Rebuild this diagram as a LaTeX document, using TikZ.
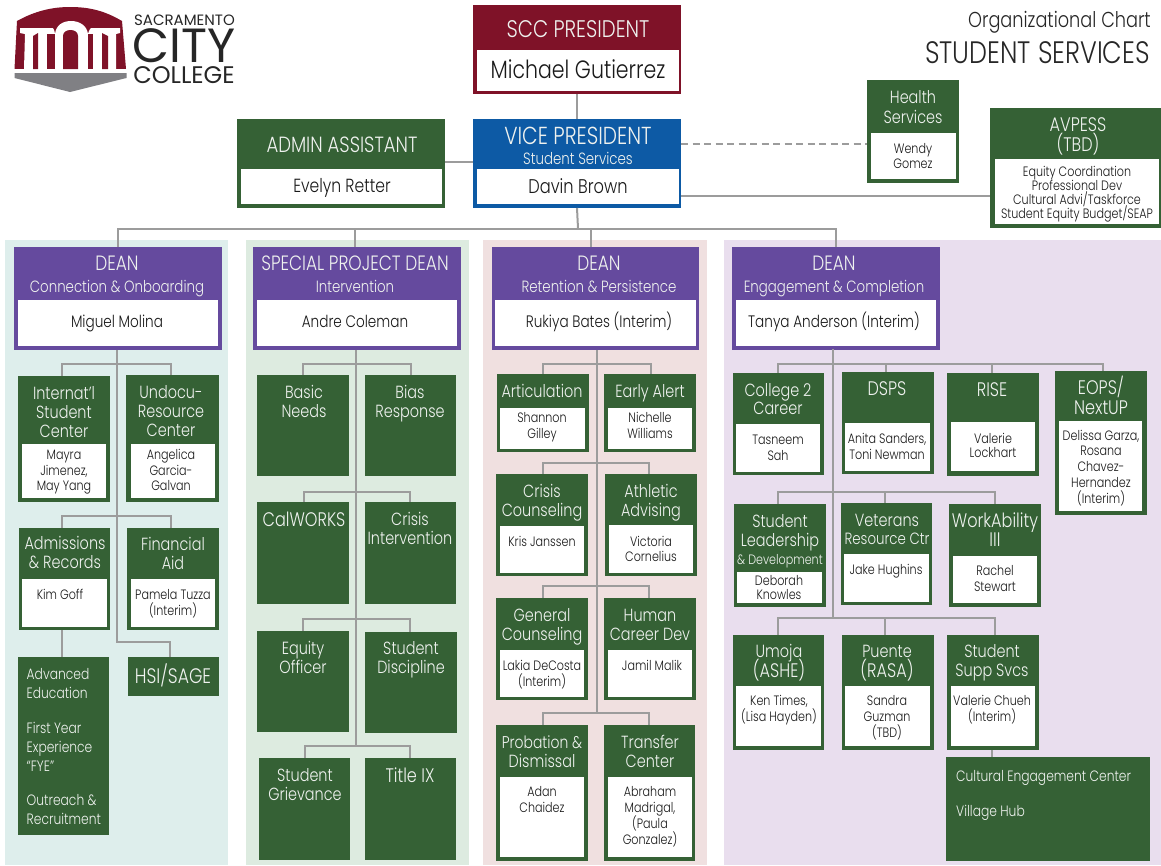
\documentclass[tikz,border=0pt]{standalone}
\usepackage{fontspec}
\setmainfont{Poppins}[UprightFont=* Light,FakeStretch=0.82]
\newfontfamily\logofont{Poppins}
\definecolor{gr}{HTML}{356135}
\definecolor{pu}{HTML}{654A9E}
\definecolor{ma}{HTML}{7F1228}
\definecolor{bl}{HTML}{0D5AA5}
\definecolor{ln}{HTML}{9C9C9C}
\definecolor{pa}{HTML}{DEEEEC}
\definecolor{pb}{HTML}{DDEBE0}
\definecolor{pc}{HTML}{F0E0E0}
\definecolor{pd}{HTML}{E9DEEE}
\definecolor{lg}{HTML}{808084}
\newcounter{tn}
\newcommand{\fs}[1]{\fontsize{#1}{#1}\selectfont}
\newcommand{\capbox}[1]{\rule{0pt}{.72em}\smash{#1}}
\tikzset{
 conn/.style={draw=ln,line width=2pt},
 plate/.style={inner sep=0pt,outer sep=0pt,draw=none,rectangle},
 wht/.style={font=\fs{17.6},text=white!92!gr,inner sep=0pt},
 blk/.style={font=\fs{13.6},text=black!90,inner sep=0pt},
 big/.style={font=\fs{20.7}},
 capt/.style={font=\fs{19.6}},
 mid/.style={font=\fs{16.3}},
 lst/.style={font=\fs{15}},
 sml/.style={font=\fs{13.6}},
 dn/.style={font=\fs{16.6}},
 lg1/.style={inner sep=0pt,text=black!85},
}
% \plt[colour]{name}{x0}{y0}{x1}{y1}
\newcommand{\plt}[6][gr]{%
 \pgfmathsetmacro{\pw}{#5-#3}\pgfmathsetmacro{\ph}{#6-#4}%
 \pgfmathsetmacro{\pcx}{(#3+#5)/2}\pgfmathsetmacro{\pcy}{(#4+#6)/2}%
 \node[plate,fill=#1,minimum width=\pw pt,minimum height=\ph pt] (#2) at (\pcx,\pcy) {};}
\newcommand{\ws}[5]{\plt[white]{#1-w}{#2}{#3}{#4}{#5}}
\newcommand{\wt}[4][]{\stepcounter{tn}\node[wht,#1] (t\arabic{tn}) at (#2,#3) {\capbox{#4}};}
\newcommand{\bt}[4][]{\stepcounter{tn}\node[blk,#1] (t\arabic{tn}) at (#2,#3) {\capbox{#4}};}
\begin{document}
\begin{tikzpicture}[x=1pt,y=-1pt]
\useasboundingbox (0,0) rectangle (1161,865);
% panels
\plt[pa]{panA}{5}{240}{228}{865}
\plt[pb]{panB}{246}{240}{469}{865}
\plt[pc]{panC}{483}{240}{707}{865}
\plt[pd]{panD}{724}{240}{1161}{865}
% logo
\fill[ma] (14.5,69) -- (17,21) .. controls (35,11) and (52,7) .. (70,7) .. controls (90,7) and (105,11) .. (122,21) -- (126,69) -- cycle;
\fill[white] (14,69) rectangle (127,72);
\fill[white] (20,28) -- (50,28) .. controls (52,27) and (54,27) .. (55,34) .. controls (56,25) and (63,21) .. (71,21) .. controls (80,21) and (87,26) .. (88,34) .. controls (90,27) and (92,27) .. (94,28) -- (120,28) -- (120,33) -- (116,34) -- (116,69) -- (24,69) -- (25,34) -- (20,33) -- cycle;
\fill[ma] (33,69) -- (33,36) -- (38,33) -- (38,69) -- cycle;
\fill[ma] (47,69) -- (47,34) -- (55,34) -- (55,69) -- cycle;
\fill[ma] (63,69) -- (63,36) .. controls (63,28) and (78,28) .. (78,36) -- (78,69) -- cycle;
\fill[ma] (88,69) -- (88,34) -- (93,34) -- (93,69) -- cycle;
\fill[ma] (102,69) -- (102,33) -- (108,36) -- (108,69) -- cycle;
\fill[lg] (14.5,73) -- (126.5,73) -- (126.5,78) -- (70,92) -- (14.5,78) -- cycle;
\node[lg1,font=\logofont\fs{15}] (lgA) at (184.5,20.5) {SACRAMENTO};
\node[lg1,font=\logofont\fs{48}] (lgB) at (184,45.5) {CITY};
\node[lg1,font=\logofont\fs{24}] (lgC) at (184,75.5) {COLLEGE};
% heading
\node[lg1,anchor=east,font=\fs{21.6}] (hdA) at (1151,20) {\capbox{Organizational Chart}};
\node[lg1,anchor=east,font=\fs{31}] (hdB) at (1150,52) {\capbox{STUDENT SERVICES}};
% top boxes
\plt[ma]{scc}{473}{5}{681}{94} \ws{scc}{477}{50}{679}{91}
\wt[font=\fs{24}]{578}{29}{SCC PRESIDENT}
\bt[font=\fs{25}]{578}{69}{Michael Gutierrez}
\plt[bl]{vp}{473}{119}{681}{208} \ws{vp}{477}{169}{679}{204}
\wt[font=\fs{24.6}]{578}{136}{VICE PRESIDENT}
\wt[mid]{578}{159}{Student Services}
\bt[font=\fs{19.8}]{578}{186}{Davin Brown}
\plt{adm}{237}{119}{445}{208} \ws{adm}{241}{169}{442}{204}
\wt[font=\fs{22}]{342}{145}{ADMIN ASSISTANT}
\bt[font=\fs{19}]{342}{186}{Evelyn Retter}
\plt{hea}{867}{80}{959}{183} \ws{hea}{871}{133}{956}{179}
\wt{913}{97}{Health} \wt{913}{117}{Services}
\bt{913}{149}{Wendy} \bt{913}{164}{Gomez}
\plt{avp}{990}{108}{1161}{228} \ws{avp}{995}{159}{1159}{224}
\wt[capt]{1078}{124}{AVPESS} \wt[capt]{1078}{144}{(TBD)}
\bt[sml]{1077}{172}{Equity Coordination} \bt[sml]{1077}{186}{Professional Dev}
\bt[sml]{1077}{200}{Cultural Advi/Taskforce} \bt[sml]{1077}{214}{Student Equity Budget/SEAP}
% deans
\plt[pu]{deanA}{14}{247}{222}{350} \ws{deanA}{18}{300}{218}{346}
\wt[big]{117}{263}{DEAN} \wt[mid]{117}{287}{Connection \& Onboarding}
\bt[dn]{117}{322}{Miguel Molina}
\plt[pu]{deanB}{253}{247}{461}{350} \ws{deanB}{257}{300}{457}{346}
\wt[big]{355}{263}{SPECIAL PROJECT DEAN} \wt[mid]{355}{287}{Intervention}
\bt[dn]{355}{322}{Andre Coleman}
\plt[pu]{deanC}{492}{247}{699}{350} \ws{deanC}{495}{300}{696}{346}
\wt[big]{599}{263}{DEAN} \wt[mid]{599}{287}{Retention \& Persistence}
\bt[dn]{599}{322}{Rukiya Bates (Interim)}
\plt[pu]{deanD}{732}{247}{940}{350} \ws{deanD}{736}{300}{936}{346}
\wt[big]{834}{263}{DEAN} \wt[mid]{834}{287}{Engagement \& Completion}
\bt[dn]{834}{322}{Tanya Anderson (Interim)}
% column A
\plt{intl}{18}{376}{110}{502} \ws{intl}{22}{444}{106}{498}
\wt{64}{393}{Internat'l} \wt{64}{412}{Student} \wt{64}{431}{Center}
\bt{64}{455}{Mayra} \bt{64}{471}{Jimenez,} \bt{64}{486}{May Yang}
\plt{undoc}{126}{375}{219}{502} \ws{undoc}{131}{444}{215}{498}
\wt{171}{392}{Undocu-} \wt{171}{411}{Resource} \wt{171}{430}{Center}
\bt{171}{455}{Angelica} \bt{171}{471}{Garcia-} \bt{171}{486}{Galvan}
\plt{adm2}{19}{528}{110}{630} \ws{adm2}{22}{579}{107}{627}
\wt{65}{543}{Admissions} \wt{65}{562}{\& Records}
\bt{60}{595}{Kim Goff}
\plt{fin}{127}{528}{219}{630} \ws{fin}{131}{579}{215}{627}
\wt{173}{544}{Financial} \wt{173}{563}{Aid}
\bt{173}{595}{Pamela Tuzza} \bt{173}{611}{(Interim)}
\plt{adv}{18}{657}{109}{835}
\wt[anchor=west,lst]{26.5}{674}{Advanced} \wt[anchor=west,lst]{26.5}{693}{Education}
\wt[anchor=west,lst]{26.5}{728}{First Year} \wt[anchor=west,lst]{26.5}{747}{Experience} \wt[anchor=west,lst]{26.5}{766}{“FYE”}
\wt[anchor=west,lst]{26.5}{800}{Outreach \&} \wt[anchor=west,lst]{26.5}{819}{Recruitment}
\plt{hsi}{128}{657}{219}{696}
\wt[font=\fs{21}]{173}{676}{HSI/SAGE}
% column B
\plt{basic}{257}{375}{349}{476} \wt{304}{392}{Basic} \wt{304}{411}{Needs}
\plt{bias}{365}{375}{456}{476} \wt{410}{392}{Bias} \wt{410}{411}{Response}
\plt{calw}{257}{502}{349}{604} \wt[capt]{304}{519}{CalWORKS}
\plt{cris}{365}{502}{456}{604} \wt{410}{519}{Crisis} \wt{410}{538}{Intervention}
\plt{equi}{257}{631}{349}{732} \wt{303}{648}{Equity} \wt{303}{667}{Officer}
\plt{disc}{365}{632}{457}{733} \wt{411}{648}{Student} \wt{411}{667}{Discipline}
\plt{grie}{258.5}{758}{350}{860} \wt{305}{775}{Student} \wt{305}{794}{Grievance}
\plt{titl}{365}{758}{456}{860} \wt[capt]{410}{775}{Title IX}
% column C
\plt{arti}{497}{374}{589}{452} \ws{arti}{500}{408}{585}{449}
\wt{542}{391}{Articulation} \bt{542}{418}{Shannon} \bt{542}{434}{Gilley}
\plt{earl}{604}{374}{696}{452} \ws{earl}{608}{408}{692}{449}
\wt{650}{391}{Early Alert} \bt{650}{418}{Nichelle} \bt{650}{434}{Williams}
\plt{ccou}{496}{474}{588}{576} \ws{ccou}{500}{526}{584}{573}
\wt{542}{491}{Crisis} \wt{542}{510}{Counseling} \bt{542}{542}{Kris Janssen}
\plt{athl}{605}{474}{697}{576} \ws{athl}{609}{525}{693}{573}
\wt{651}{491}{Athletic} \wt{651}{510}{Advising} \bt{651}{542}{Victoria} \bt{651}{557}{Cornelius}
\plt{genc}{496}{598}{588}{700} \ws{genc}{500}{650}{584}{697}
\wt{542}{615}{General} \wt{542}{634}{Counseling} \bt{542}{666}{Lakia DeCosta} \bt{542}{682}{(Interim)}
\plt{humn}{604}{598}{696}{700} \ws{humn}{608}{650}{692}{697}
\wt{650}{615}{Human} \wt{650}{634}{Career Dev} \bt{652}{666}{Jamil Malik}
\plt{prob}{496}{725}{588}{861} \ws{prob}{500}{777}{584}{857}
\wt[font=\fs{17}]{542}{742}{Probation \&} \wt{542}{761}{Dismissal} \bt{542}{792}{Adan} \bt{542}{808}{Chaidez}
\plt{tran}{604}{725}{695}{861} \ws{tran}{608}{777}{692}{857}
\wt{650}{742}{Transfer} \wt{650}{761}{Center}
\bt{650}{792}{Abraham} \bt{650}{808}{Madrigal,} \bt{650}{824}{(Paula} \bt{650}{840}{Gonzalez)}
% column D
\plt{coll}{732.5}{373}{824}{475} \ws{coll}{736}{424}{820}{472}
\wt{778}{390}{College 2} \wt{778}{408}{Career} \bt{778}{440}{Tasneem} \bt{778}{456}{Sah}
\plt{dsps}{841.5}{372}{933.5}{474} \ws{dsps}{845}{423}{930}{471}
\wt[capt]{887}{388}{DSPS} \bt{887}{439}{Anita Sanders,} \bt{887}{455}{Toni Newman}
\plt{rise}{947}{373}{1038.5}{475.5} \ws{rise}{951}{422}{1035}{471}
\wt[capt]{992}{389}{RISE} \bt{993}{439}{Valerie} \bt{993}{453}{Lockhart}
\plt{eops}{1054.5}{371}{1147}{515} \ws{eops}{1059}{421}{1142}{511}
\wt[capt]{1101}{387}{EOPS/} \wt[capt]{1101}{407}{NextUP}
\bt{1101}{436}{Delissa Garza,} \bt{1101}{451}{Rosana} \bt{1101}{467}{Chavez-} \bt{1101}{483}{Hernandez} \bt{1101}{499}{(Interim)}
\plt{slea}{733.5}{504}{825.5}{607} \ws{slea}{737}{572}{821.5}{603}
\wt{780}{521}{Student} \wt{780}{540}{Leadership} \wt[sml]{780}{560}{\& Development}
\bt{779}{581}{Deborah} \bt{779}{595}{Knowles}
\plt{vete}{841}{503}{932}{605} \ws{vete}{844}{554}{929}{602}
\wt{887}{520}{Veterans} \wt[mid]{887}{539}{Resource Ctr} \bt{886}{570}{Jake Hughins}
\plt{work}{949}{504}{1041}{607} \ws{work}{953}{556}{1037}{603}
\wt[capt]{995}{520}{WorkAbility} \wt[capt]{995}{539}{III} \bt{995}{571}{Rachel} \bt{995}{587}{Stewart}
\plt{umoj}{733}{635}{824}{750} \ws{umoj}{736}{686}{821}{746}
\wt{779}{651}{Umoja} \wt[capt]{779}{670}{(ASHE)} \bt{779}{701}{Ken Times,} \bt{779}{717}{(Lisa Hayden)}
\plt{puen}{841.5}{635}{933.5}{750} \ws{puen}{845}{686}{930}{746}
\wt{887}{651}{Puente} \wt[capt]{887}{670}{(RASA)} \bt{887}{701}{Sandra} \bt{887}{717}{Guzman} \bt{887}{733}{(TBD)}
\plt{supp}{947}{635}{1038.5}{750} \ws{supp}{951}{686}{1035}{746}
\wt{992}{651}{Student} \wt{992}{670}{Supp Svcs} \bt{992}{701}{Valerie Chueh} \bt{992}{717}{(Interim)}
\plt{cult}{946}{757}{1150}{861}
\wt[anchor=west,lst]{956}{776}{Cultural Engagement Center}
\wt[anchor=west,lst]{956}{811}{Village Hub}
% connectors: top
\draw[conn] (scc.south) -- (vp.north);
\coordinate (admr) at (445,162);
\draw[conn] (admr) -- (admr -| vp.west);
\coordinate (vpd) at (681,144);
\draw[conn,dash pattern=on 7pt off 4.5pt] (vpd) -- (vpd -| hea.west);
\coordinate (vpa) at (681,196);
\draw[conn] (vpa) -- (vpa -| avp.west);
\coordinate (busT) at (578,228.5);
\draw[conn] (vp.south) -- (busT);
\draw[conn] (118,247) |- (busT);
\draw[conn] (355,247) |- (busT);
\draw[conn] (591,247) |- (busT);
\draw[conn] (836,247) |- (busT);
% column A
\coordinate (trA) at (117,350);
\coordinate (a1) at (117,364);\coordinate (a2) at (117,516);\coordinate (a3) at (117,642);
\draw[conn] (trA) -- (a3) -| (170,657);
\draw[conn] (61.5,376) |- (a1) -| (171,375);
\draw[conn] (61.5,528) |- (a2) -| (170.5,528);
\draw[conn] (61.5,630) -- (61.5,657);
% column B
\coordinate (trB) at (356,350);
\coordinate (b1) at (356,364);\coordinate (b2) at (356,492);\coordinate (b3) at (356,619);\coordinate (b4) at (356,746);
\draw[conn] (trB) -- (b4);
\draw[conn] (303,375) |- (b1) -| (411,375);
\draw[conn] (304,502) |- (b2) -| (410,502);
\draw[conn] (303,631) |- (b3) -| (410,632);
\draw[conn] (305,758) |- (b4) -| (410,758);
% column C
\coordinate (trC) at (597,350);
\coordinate (c1) at (597,364);\coordinate (c2) at (597,463);\coordinate (c3) at (597,586);\coordinate (c4) at (597,713);
\draw[conn] (trC) -- (c4);
\draw[conn] (543,374) |- (c1) -| (651,374);
\draw[conn] (543,474) |- (c2) -| (649,474);
\draw[conn] (543,598) |- (c3) -| (649,598);
\draw[conn] (543,725) |- (c4) -| (649,725);
% column D
\coordinate (trD) at (833,349);
\coordinate (d1) at (833,364);\coordinate (d2) at (833,492);\coordinate (d3) at (833,618);
\draw[conn] (trD) -- (d3);
\draw[conn] (778,373) |- (d1) -| (1103,371);
\draw[conn] (886,364) -- (886,372);
\draw[conn] (992,364) -- (992,373);
\draw[conn] (778,504) |- (d2) -| (995,504);
\draw[conn] (885,492) -- (885,503);
\draw[conn] (778,635) |- (d3) -| (995,635);
\draw[conn] (885,618) -- (885,635);
\draw[conn] (992,750) -- (992,757);
\end{tikzpicture}
\end{document}
